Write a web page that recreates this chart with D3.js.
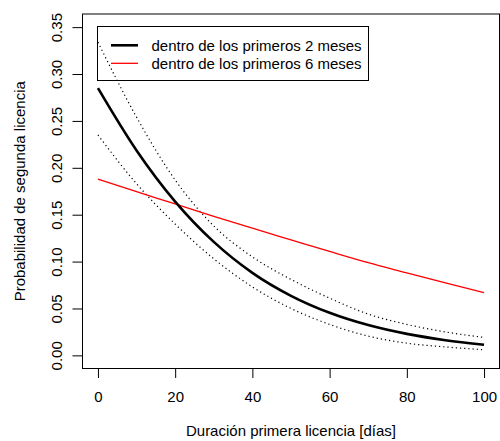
<!DOCTYPE html>
<html>
<head>
<meta charset="utf-8">
<script src="https://cdn.jsdelivr.net/npm/d3@7"></script>
<style>
  html, body { margin: 0; padding: 0; background: #fff; }
  svg { display: block; }
  text { font-family: "Liberation Sans", Arial, Helvetica, sans-serif; fill: #000; }
</style>
</head>
<body>
<svg id="chart" width="500" height="441"></svg>
<script>
// Días de la primera licencia
const dias = [0, 10, 20, 30, 40, 50, 60, 70, 80, 90, 100];
// Probabilidad de segunda licencia dentro de los primeros 2 meses (estimación e IC)
const prob2m    = [0.285, 0.2185, 0.164, 0.121, 0.088, 0.0635, 0.0454, 0.0323, 0.0229, 0.0162, 0.0114];
const prob2mSup = [0.334, 0.254, 0.187, 0.138, 0.105, 0.081, 0.061, 0.044, 0.033, 0.025, 0.0191];
const prob2mInf = [0.235, 0.183, 0.140, 0.103, 0.073, 0.050, 0.033, 0.0205, 0.013, 0.009, 0.006];
// Probabilidad dentro de los primeros 6 meses
const prob6m    = [0.188, 0.1745, 0.1615, 0.1482, 0.1356, 0.1232, 0.1108, 0.0988, 0.0880, 0.0772, 0.067];

const xTicks = [0, 20, 40, 60, 80, 100];
const yTicks = [0, 0.05, 0.10, 0.15, 0.20, 0.25, 0.30, 0.35];
const legendLabels = ["dentro de los primeros 2 meses", "dentro de los primeros 6 meses"];

const svg = d3.select("#chart");
const box = { left: 82.5, right: 499.5, top: 14, bottom: 368.5 };
const fontSize = 15;

const x = d3.scaleLinear().domain([-4, 104]).range([box.left, box.right]);
const y = d3.scaleLinear().domain([-0.014, 0.364]).range([box.bottom, box.top]);

const line = d3.line()
  .x((d, i) => x(dias[i]))
  .y(d => y(d))
  .curve(d3.curveMonotoneX);

// Curvas
const curves = svg.append("g");
curves.append("path").datum(prob2mSup)
  .attr("d", line).attr("fill", "none")
  .attr("stroke", "#000").attr("stroke-width", 1.2).attr("stroke-dasharray", "1.2,3");
curves.append("path").datum(prob2mInf)
  .attr("d", line).attr("fill", "none")
  .attr("stroke", "#000").attr("stroke-width", 1.2).attr("stroke-dasharray", "1.2,3");
curves.append("path").datum(prob6m)
  .attr("d", line).attr("fill", "none")
  .attr("stroke", "#ff0000").attr("stroke-width", 1.3);
curves.append("path").datum(prob2m)
  .attr("d", line).attr("fill", "none")
  .attr("stroke", "#000").attr("stroke-width", 2.6);

// Marco del gráfico
svg.append("rect")
  .attr("x", box.left).attr("y", box.top)
  .attr("width", box.right - box.left).attr("height", box.bottom - box.top)
  .attr("fill", "none").attr("stroke", "#000").attr("stroke-width", 1);

// Eje x
const gx = svg.append("g")
  .attr("transform", `translate(0,${box.bottom})`)
  .call(d3.axisBottom(x).tickValues(xTicks).tickFormat(d3.format("d"))
    .tickSize(9.5).tickPadding(13));
gx.select(".domain").remove();
gx.selectAll("text").attr("font-size", fontSize).attr("font-family", null);
gx.selectAll("line").attr("stroke", "#000");

// Eje y (etiquetas giradas)
const gy = svg.append("g")
  .attr("transform", `translate(${box.left},0)`)
  .call(d3.axisLeft(y).tickValues(yTicks).tickFormat(d3.format(".2f"))
    .tickSize(10));
gy.select(".domain").remove();
gy.selectAll("line").attr("stroke", "#000");
gy.selectAll("text")
  .attr("font-size", fontSize).attr("font-family", null)
  .attr("x", null).attr("dy", null)
  .attr("text-anchor", "middle")
  .attr("transform", "translate(-21,0) rotate(-90)");

// Títulos de los ejes
svg.append("text")
  .attr("x", (box.left + box.right) / 2).attr("y", 436)
  .attr("text-anchor", "middle").attr("font-size", fontSize)
  .text("Duración primera licencia [días]");
svg.append("text")
  .attr("transform", `translate(24.5,${(box.top + box.bottom) / 2}) rotate(-90)`)
  .attr("text-anchor", "middle").attr("font-size", fontSize)
  .text("Probabilidad de segunda licencia");

// Leyenda (sin fondo, las curvas se ven a través del recuadro)
const legend = svg.append("g");
legend.append("rect")
  .attr("x", 97.5).attr("y", 26.5).attr("width", 271).attr("height", 54)
  .attr("fill", "none").attr("stroke", "#000").attr("stroke-width", 1);
const legendStyles = [
  { color: "#000", width: 2.6 },
  { color: "#ff0000", width: 1.3 }
];
legendLabels.forEach((lab, i) => {
  const cy = 45.3 + i * 18;
  legend.append("line")
    .attr("x1", 111).attr("x2", 138).attr("y1", cy).attr("y2", cy)
    .attr("stroke", legendStyles[i].color).attr("stroke-width", legendStyles[i].width);
  legend.append("text")
    .attr("x", 151.5).attr("y", cy + 5.5)
    .attr("font-size", fontSize)
    .text(lab);
});
</script>
</body>
</html>
